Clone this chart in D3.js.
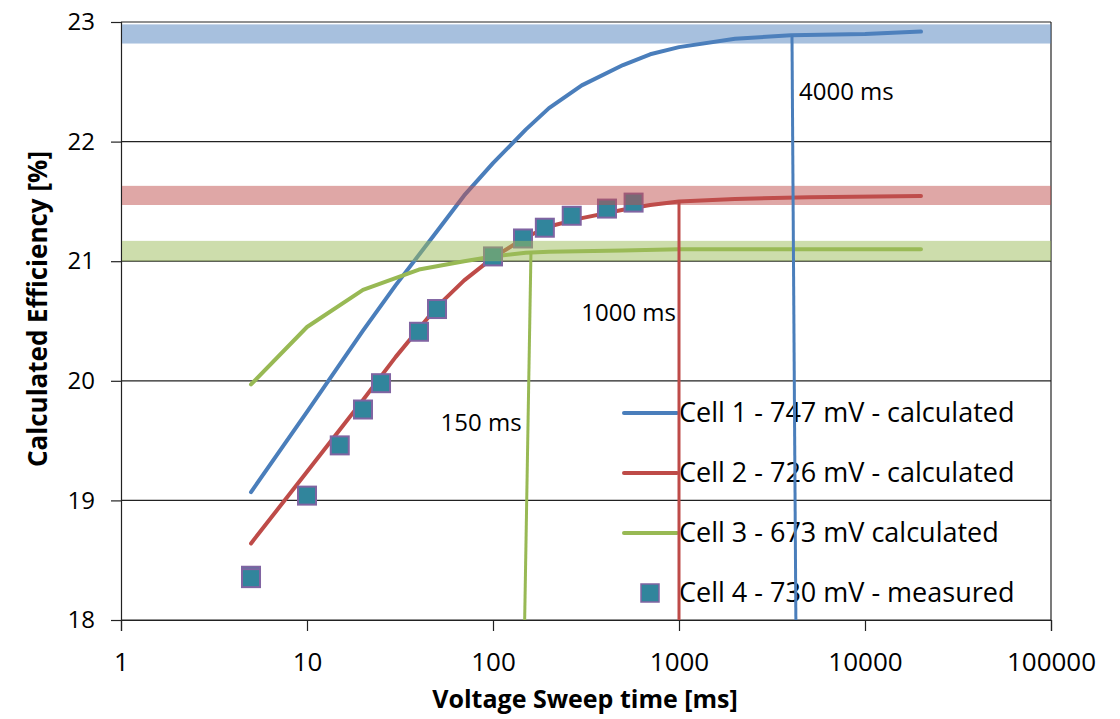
<!DOCTYPE html>
<html>
<head>
<meta charset="utf-8">
<script src="https://cdn.jsdelivr.net/npm/d3@7"></script>
<style>
  body { margin: 0; background: #fff; }
  svg { display: block; font-family: "Open Sans", sans-serif; }
</style>
</head>
<body>
<svg></svg>
<script>
// Calculated efficiency vs voltage sweep time (log x axis)

let cell1Time = [5, 10, 20, 30, 50, 70, 100, 150, 200, 300, 500, 700, 1000, 2000, 4000, 10000, 20000];
let cell1Eff  = [19.07, 19.74, 20.42, 20.8, 21.25, 21.55, 21.82, 22.1, 22.28, 22.47, 22.64, 22.73, 22.79, 22.86, 22.89, 22.9, 22.92];

let cell2Time = [5, 10, 20, 30, 50, 70, 100, 150, 200, 300, 500, 700, 1000, 2000, 5000, 20000];
let cell2Eff  = [18.64, 19.24, 19.84, 20.2, 20.62, 20.84, 21.03, 21.2, 21.29, 21.36, 21.43, 21.47, 21.5, 21.52, 21.535, 21.545];

let cell3Time = [5, 10, 20, 40, 70, 100, 150, 200, 500, 1000, 2000, 5000, 20000];
let cell3Eff  = [19.97, 20.45, 20.76, 20.93, 21.0, 21.04, 21.07, 21.08, 21.09, 21.1, 21.1, 21.1, 21.1];

let cell4Time = [5, 5, 10, 15, 20, 25, 40, 50, 100, 145, 190, 265, 410, 570];
let cell4Eff  = [18.37, 18.35, 19.04, 19.46, 19.76, 19.98, 20.41, 20.6, 21.04, 21.19, 21.28, 21.38, 21.44, 21.49];

// saturation bands (low, high) for cell 1, 2, 3
let bandLow  = [22.82, 21.47, 21.0];
let bandHigh = [22.98, 21.63, 21.17];

// cut-off lines: top point and bottom point (time, efficiency)
let cutLabels    = ["150 ms", "1000 ms", "4000 ms"];
let cutTopTime   = [160, 1000, 4050];
let cutTopEff    = [21.08, 21.51, 22.89];
let cutBotTime   = [148, 1000, 4250];
let cutBotEff    = [18, 18, 18];
let cutLabelEff  = [19.58, 20.5, 22.35];

let seriesNames = ["Cell 1 - 747 mV - calculated", "Cell 2 - 726 mV - calculated",
                   "Cell 3 - 673 mV calculated", "Cell 4 - 730 mV - measured"];

let xTicks = [1, 10, 100, 1000, 10000, 100000];
let yTicks = [18, 19, 20, 21, 22, 23];

let width = 1120;
let height = 719;
let plotLeft = 121, plotRight = 1051, plotTop = 22, plotBottom = 620;

let colors = ["#4A7EBB", "#BE4B48", "#98B954"];
let bandColors = ["#4F81BD", "#C0504D", "#9BBB59"];

let svg = d3.select("svg").attr("width", width).attr("height", height);

let xScale = d3.scaleLog().domain([1, 100000]).range([plotLeft, plotRight]);
let yScale = d3.scaleLinear().domain([18, 23]).range([plotBottom, plotTop]);

// horizontal gridlines
svg.append("g")
    .selectAll("line")
    .data(yTicks)
    .enter()
    .append("line")
    .attr("x1", plotLeft)
    .attr("x2", plotRight)
    .attr("y1", (d) => yScale(d))
    .attr("y2", (d) => yScale(d))
    .attr("stroke", "#222")
    .attr("stroke-width", 1.2);

// right border
svg.append("line")
    .attr("x1", plotRight).attr("x2", plotRight)
    .attr("y1", plotTop).attr("y2", plotBottom)
    .attr("stroke", "#222").attr("stroke-width", 1.2);

// axes
let xAxis = d3.axisBottom(xScale)
    .tickValues(xTicks)
    .tickFormat(d3.format("d"))
    .tickSize(11)
    .tickPadding(22);
let gx = svg.append("g")
    .attr("transform", "translate(0," + plotBottom + ")")
    .call(xAxis);
gx.select(".domain").attr("stroke", "#222").attr("stroke-width", 1.2);
gx.selectAll(".tick line").attr("stroke", "#222").attr("stroke-width", 1.2);
gx.selectAll("text").attr("font-size", 26).attr("fill", "#000")
    .attr("font-family", "Open Sans");

let yAxis = d3.axisLeft(yScale)
    .tickValues(yTicks)
    .tickFormat(d3.format("d"))
    .tickSize(10)
    .tickPadding(16);
let gy = svg.append("g")
    .attr("transform", "translate(" + plotLeft + ",0)")
    .call(yAxis);
gy.select(".domain").attr("stroke", "#222").attr("stroke-width", 1.2);
gy.selectAll(".tick line").attr("stroke", "#222").attr("stroke-width", 1.2);
gy.selectAll("text").attr("font-size", 24).attr("fill", "#000")
    .attr("font-family", "Open Sans");

// curves
let line = d3.line()
    .x((d) => xScale(d[0]))
    .y((d) => yScale(d[1]));

let curves = [
    d3.zip(cell1Time, cell1Eff),
    d3.zip(cell2Time, cell2Eff),
    d3.zip(cell3Time, cell3Eff)
];

svg.append("g")
    .selectAll("path")
    .data(curves)
    .enter()
    .append("path")
    .attr("d", line)
    .attr("fill", "none")
    .attr("stroke", (d, i) => colors[i])
    .attr("stroke-width", 4)
    .attr("stroke-linecap", "round")
    .attr("stroke-linejoin", "round");

// measured points
let sq = 18;
svg.append("g")
    .selectAll("rect")
    .data(d3.zip(cell4Time, cell4Eff))
    .enter()
    .append("rect")
    .attr("x", (d) => xScale(d[0]) - sq / 2)
    .attr("y", (d) => yScale(d[1]) - sq / 2)
    .attr("width", sq)
    .attr("height", sq)
    .attr("fill", "#31859C")
    .attr("stroke", "#8064A2")
    .attr("stroke-width", 2);

// saturation bands (drawn on top, transparent)
svg.append("g")
    .selectAll("rect")
    .data(d3.zip(bandLow, bandHigh))
    .enter()
    .append("rect")
    .attr("x", plotLeft + 1)
    .attr("width", plotRight - plotLeft - 1)
    .attr("y", (d) => yScale(d[1]))
    .attr("height", (d) => yScale(d[0]) - yScale(d[1]))
    .attr("fill", (d, i) => bandColors[i])
    .attr("opacity", 0.5);

// legend
let legendX = 624, legendY = 413, legendStep = 60;
let legend = svg.append("g");
seriesNames.forEach((name, i) => {
    let y = legendY + i * legendStep;
    if (i < 3) {
        legend.append("line")
            .attr("x1", legendX).attr("x2", legendX + 53)
            .attr("y1", y).attr("y2", y)
            .attr("stroke", colors[i])
            .attr("stroke-width", 4)
            .attr("stroke-linecap", "round");
    } else {
        legend.append("rect")
            .attr("x", legendX + 26 - 9).attr("y", y - 9)
            .attr("width", 18).attr("height", 18)
            .attr("fill", "#31859C")
            .attr("stroke", "#8064A2")
            .attr("stroke-width", 1.5);
    }
    legend.append("text")
        .attr("x", legendX + 55)
        .attr("y", y)
        .attr("dy", "0.35em")
        .attr("font-size", 27)
        .text(name);
});

// cut-off lines
svg.append("g")
    .selectAll("line")
    .data(cutLabels)
    .enter()
    .append("line")
    .attr("x1", (d, i) => xScale(cutTopTime[i]))
    .attr("y1", (d, i) => yScale(cutTopEff[i]))
    .attr("x2", (d, i) => xScale(cutBotTime[i]))
    .attr("y2", (d, i) => yScale(cutBotEff[i]))
    .attr("stroke", (d, i) => colors[2 - i])
    .attr("stroke-width", 3);

// cut-off labels
svg.append("g")
    .selectAll("text")
    .data(cutLabels)
    .enter()
    .append("text")
    .attr("x", (d, i) => i < 2 ? xScale(cutBotTime[i]) - 3 : xScale(cutTopTime[i]) + 7)
    .attr("y", (d, i) => yScale(cutLabelEff[i]))
    .attr("text-anchor", (d, i) => i < 2 ? "end" : "start")
    .attr("font-size", 24)
    .text((d) => d);

// axis titles
svg.append("text")
    .attr("x", 585)
    .attr("y", 708)
    .attr("text-anchor", "middle")
    .attr("font-size", 25)
    .attr("font-weight", "bold")
    .text("Voltage Sweep time [ms]");

svg.append("text")
    .attr("transform", "translate(47," + ((plotTop + plotBottom) / 2 - 12) + ") rotate(-90)")
    .attr("text-anchor", "middle")
    .attr("font-size", 26)
    .attr("font-weight", "bold")
    .text("Calculated Efficiency [%]");
</script>
</body>
</html>
